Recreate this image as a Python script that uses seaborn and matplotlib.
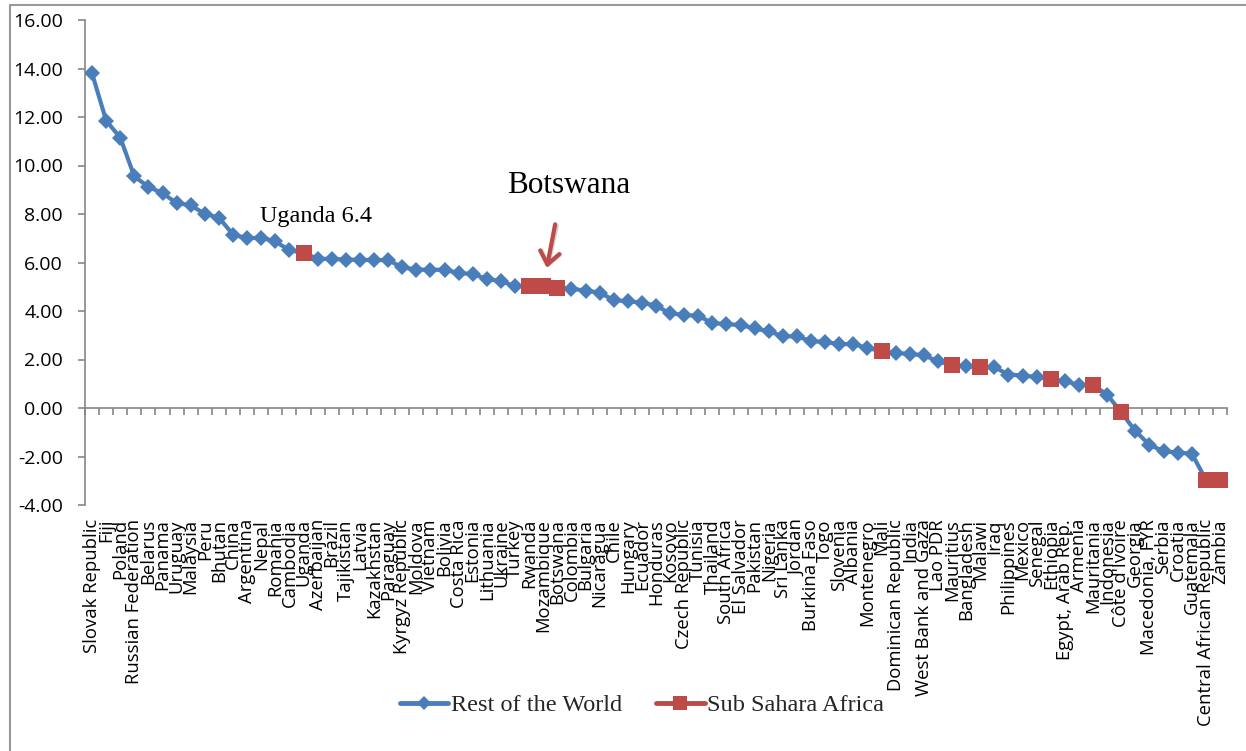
import numpy as np
import pandas as pd
import matplotlib
matplotlib.use("Agg")
import matplotlib.pyplot as plt
from matplotlib.lines import Line2D
from matplotlib.ticker import FormatStrFormatter, FixedLocator
import seaborn as sns

# Growth figures by country, sorted from highest to lowest
countries = [
    "Slovak Republic", "Fiji", "Poland", "Russian Federation", "Belarus", "Panama",
    "Uruguay", "Malaysia", "Peru", "Bhutan", "China", "Argentina", "Nepal", "Romania",
    "Cambodia", "Uganda", "Azerbaijan", "Brazil", "Tajikistan", "Latvia", "Kazakhstan",
    "Paraguay", "Kyrgyz Republic", "Moldova", "Vietnam", "Bolivia", "Costa Rica",
    "Estonia", "Lithuania", "Ukraine", "Turkey", "Rwanda", "Mozambique", "Botswana",
    "Colombia", "Bulgaria", "Nicaragua", "Chile", "Hungary", "Ecuador", "Honduras",
    "Kosovo", "Czech Republic", "Tunisia", "Thailand", "South Africa", "El Salvador",
    "Pakistan", "Nigeria", "Sri Lanka", "Jordan", "Burkina Faso", "Togo", "Slovenia",
    "Albania", "Montenegro", "Mali", "Dominican Republic", "India", "West Bank and Gaza",
    "Lao PDR", "Mauritius", "Bangladesh", "Malawi", "Iraq", "Philippines", "Mexico",
    "Senegal", "Ethiopia", "Egypt, Arab Rep.", "Armenia", "Mauritania", "Indonesia",
    "Côte d'Ivoire", "Georgia", "Macedonia, FYR", "Serbia", "Croatia", "Guatemala",
    "Central African Republic", "Zambia",
]
values = [
    13.80, 11.85, 11.15, 9.55, 9.12, 8.86,
    8.45, 8.36, 8.00, 7.85, 7.15, 7.00, 7.02, 6.87,
    6.50, 6.40, 6.15, 6.15, 6.12, 6.11, 6.10,
    6.10, 5.80, 5.71, 5.70, 5.70, 5.57,
    5.52, 5.32, 5.23, 5.02, 5.02, 5.02, 4.96,
    4.92, 4.84, 4.76, 4.45, 4.40, 4.35, 4.22,
    3.90, 3.84, 3.80, 3.50, 3.46, 3.42,
    3.28, 3.16, 2.96, 2.95, 2.76, 2.72, 2.64,
    2.63, 2.48, 2.33, 2.28, 2.22, 2.18,
    1.92, 1.78, 1.72, 1.68, 1.68, 1.38, 1.34,
    1.28, 1.20, 1.10, 0.96, 0.94, 0.55,
    -0.18, -0.95, -1.52, -1.78, -1.84, -1.88,
    -2.95, -2.98,
]
ssa_countries = [
    "Uganda", "Rwanda", "Mozambique", "Botswana", "Mali", "Mauritius", "Malawi",
    "Ethiopia", "Mauritania", "Côte d'Ivoire", "Central African Republic", "Zambia",
]
series_names = ["Rest of the World", "Sub Sahara Africa"]
y_ticks = [-4, -2, 0, 2, 4, 6, 8, 10, 12, 14, 16]

BLUE = "#4A7EBB"
RED = "#BE4B48"
GREY = "#868686"

df = pd.DataFrame({"country": countries, "value": values})
df["pos"] = np.arange(len(df))
df["ssa"] = df["country"].isin(ssa_countries)
ssa = df[df["ssa"]]

sns.set_style("white")
plt.rcParams["font.family"] = ["Open Sans", "DejaVu Sans"]

fig = plt.figure(figsize=(12.46, 7.51), dpi=100)
ax = fig.add_axes([85 / 1246, 1 - 505 / 751, 1142 / 1246, 485 / 751])

# All countries as one connected line
sns.lineplot(data=df, x="pos", y="value", ax=ax, color=BLUE, linewidth=3,
             marker="D", markersize=7.8, markeredgewidth=0, sort=False,
             legend=False, zorder=3)
# Sub-Saharan countries highlighted on top
sns.scatterplot(data=ssa, x="pos", y="value", ax=ax, color=RED, marker="s",
                s=12.2 ** 2, linewidth=0, legend=False, zorder=4)

n = len(df)
ax.set_xlim(-0.5, n - 0.5)
ax.set_ylim(y_ticks[0], y_ticks[-1])
ax.set_yticks(y_ticks)
ax.yaxis.set_major_formatter(FormatStrFormatter("%.2f"))
ax.set_xticks(df["pos"], df["country"])
ax.xaxis.set_minor_locator(FixedLocator(np.arange(n + 1) - 0.5))
ax.set_xlabel("")
ax.set_ylabel("")

for side in ("top", "right"):
    ax.spines[side].set_visible(False)
ax.spines["bottom"].set_position(("data", 0))
for side in ("left", "bottom"):
    ax.spines[side].set_color(GREY)
    ax.spines[side].set_linewidth(1.2)

ax.tick_params(axis="y", which="major", direction="out", length=5, width=1.2,
               color=GREY, pad=11, labelsize=14, labelcolor="black", left=True)
ax.tick_params(axis="x", which="major", length=0, pad=80, labelsize=13.3,
               labelcolor="black", bottom=True, labelrotation=90)
ax.tick_params(axis="x", which="minor", direction="out", length=4.8, width=1.2,
               color=GREY, bottom=True)
for lbl in ax.get_xticklabels():
    lbl.set_rotation(90)
    lbl.set_ha("center")
    lbl.set_va("top")

# Annotations
serif = ["Liberation Serif", "DejaVu Serif"]
uga = df[df["country"] == "Uganda"].iloc[0]
ax.annotate(f"Uganda {uga['value']:.1f}", xy=(uga["pos"], uga["value"]),
            xytext=(9, 26), textcoords="offset points", ha="center", va="center",
            fontsize=17.5, family=serif, color="black")

bots = df[df["country"] == "Botswana"].iloc[0]
ax.annotate("Botswana", xy=(bots["pos"], bots["value"]),
            xytext=(8, 73.5), textcoords="offset points", ha="center", va="center",
            fontsize=22.5, family=serif, color="black")

moz = df[df["country"] == "Mozambique"].iloc[0]
for dx, dy, col, alpha in [(1.2, -1.2, "#9a9a9a", 0.45), (0, 0, RED, 1.0)]:
    ax.annotate("", xy=(moz["pos"], moz["value"]), xycoords="data",
                xytext=(8.6 + dx, 44.6 + dy), textcoords="offset points",
                arrowprops=dict(arrowstyle="->,head_length=0.45,head_width=0.35",
                                color=col, lw=3, alpha=alpha, shrinkA=0,
                                shrinkB=13.5, mutation_scale=20),
                zorder=5)

# Legend
handles = [
    Line2D([], [], color=BLUE, linewidth=3.5, marker="D", markersize=7,
           markeredgewidth=0),
    Line2D([], [], color=RED, linewidth=3.5, marker="s", markersize=10.5,
           markeredgewidth=0),
]
fig.legend(handles, series_names, loc="center",
           bbox_to_anchor=(642 / 1246, 1 - 705 / 751), ncol=2, frameon=False,
           prop={"family": serif, "size": 17.5}, handlelength=2.0,
           handletextpad=0.1, columnspacing=1.4)

# Chart frame
fig.add_artist(Line2D([10 / 1246, 10 / 1246], [0, 1 - 5 / 751],
                      transform=fig.transFigure, color="#999999", linewidth=1.5))
fig.add_artist(Line2D([10 / 1246, 1], [1 - 5 / 751, 1 - 5 / 751],
                      transform=fig.transFigure, color="#999999", linewidth=1.5))

fig.savefig("out.png", dpi=100, facecolor="white")
